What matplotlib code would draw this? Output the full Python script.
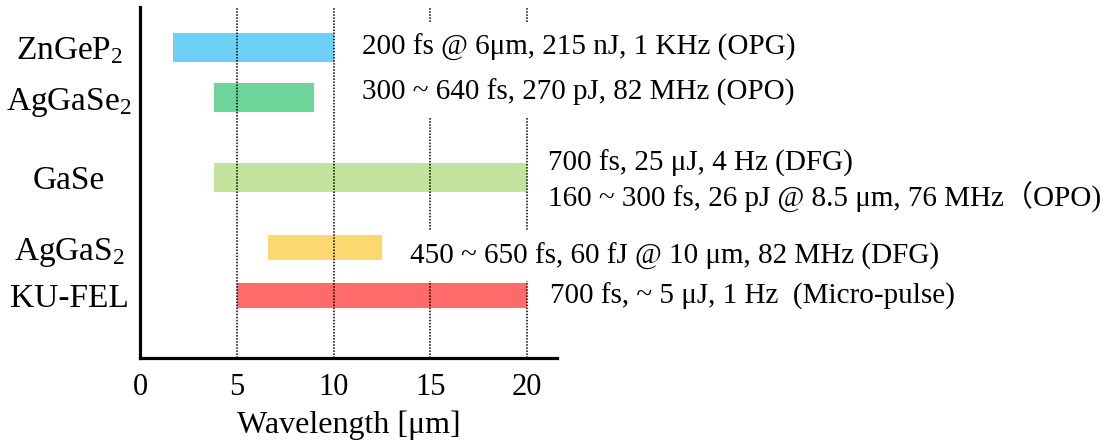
import matplotlib
matplotlib.use("Agg")
import matplotlib.pyplot as plt

plt.rcParams['font.family'] = ['Liberation Serif', 'Noto Sans CJK JP']
plt.rcParams['mathtext.default'] = 'regular'

# crystals / sources and their tuning ranges [um]
crystals = ["ZnGeP$_2$", "AgGaSe$_2$", "GaSe", "AgGaS$_2$", "KU-FEL"]
range_start = [1.7, 3.8, 3.8, 6.6, 5.0]
range_end = [10.0, 9.0, 20.0, 12.5, 20.0]
colors = ["#6dd1f6", "#6dd49a", "#c1e39c", "#fdd870", "#ff6b6b"]

# pulse parameters written next to the bars
notes = [
    "200 fs @ 6μm, 215 nJ, 1 KHz (OPG)",
    "300 ~ 640 fs, 270 pJ, 82 MHz (OPO)",
    "700 fs, 25 μJ, 4 Hz (DFG)",
    "160 ~ 300 fs, 26 pJ @ 8.5 μm, 76 MHz（OPO)",
    "450 ~ 650 fs, 60 fJ @ 10 μm, 82 MHz (DFG)",
    "700 fs, ~ 5 μJ, 1 Hz  (Micro-pulse)",
]
xticks = [0, 5, 10, 15, 20]

# row layout
rows = [0.95, 1.95, 3.55, 4.95, 5.91]
bar_h = [0.58, 0.58, 0.58, 0.5, 0.5]
note_pos = [(11.47, 0.95), (11.47, 1.84), (21.08, 3.27), (21.08, 3.94),
            (13.95, 5.12), (21.19, 5.92)]
# notes that sit on top of the dotted guides get a white background
masked = [True, True, False, False, True, False]

fig = plt.figure(figsize=(11.02, 4.43), dpi=100)
ax = fig.add_axes([140/1102, (443-357.7)/443, 417/1102, 350.7/443])

widths = [e - s for s, e in zip(range_start, range_end)]
ax.barh(rows, widths, left=range_start, height=bar_h, color=colors, zorder=1)

for x in xticks[1:]:
    ax.axvline(x, color='black', linestyle=(0, (1, 1)), linewidth=1.1, zorder=2)

for txt, (x, y), m in zip(notes, note_pos, masked):
    box = dict(boxstyle='square,pad=0.4', facecolor='white', edgecolor='none') if m else None
    ax.text(x, y, txt, fontsize=21, va='center', ha='left', zorder=3, bbox=box)

ax.set_xlim(0, 21.55)
ax.set_ylim(7.15, 0.14)
ax.set_xticks(xticks)
ax.set_xticklabels([str(t) for t in xticks], fontsize=22)
ax.set_yticks(rows)
ax.set_yticklabels(crystals, fontsize=24)
for lbl in ax.get_yticklabels():
    lbl.set_horizontalalignment('center')
ax.tick_params(axis='y', length=0, pad=51)
ax.tick_params(axis='x', length=0, pad=11)
ax.set_xlabel('Wavelength [μm]', fontsize=23, labelpad=6)

ax.spines['top'].set_visible(False)
ax.spines['right'].set_visible(False)
ax.spines['left'].set_linewidth(2.3)
ax.spines['bottom'].set_linewidth(2.3)

fig.savefig('out.png', dpi=100)
